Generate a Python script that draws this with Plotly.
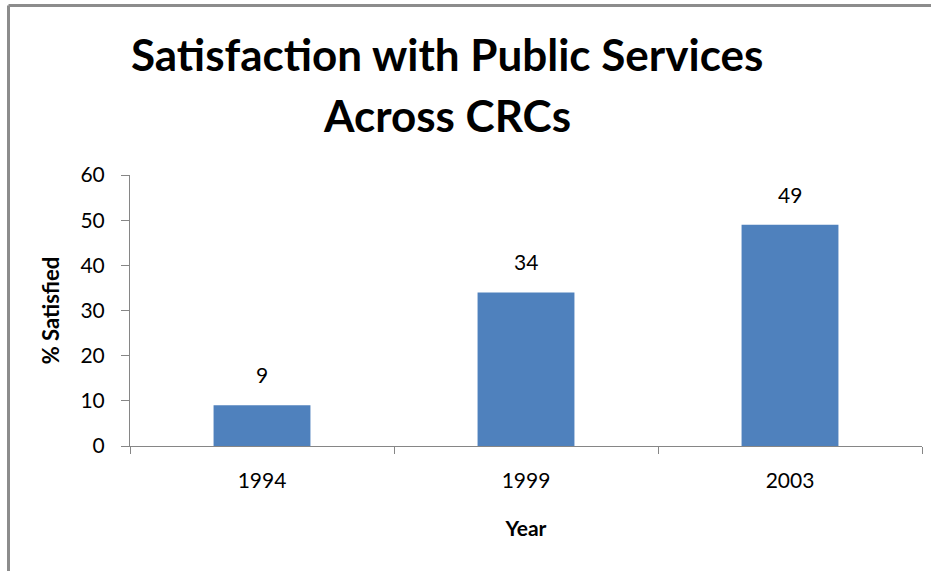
import plotly.graph_objects as go

years = ["1994", "1999", "2003"]
satisfied = [9, 34, 49]
y_ticks = [0, 10, 20, 30, 40, 50, 60]

title_line1 = "Satisfaction with Public Services"
title_line2 = "Across CRCs"

FONT = "Lato"
AXIS_COLOR = "#868686"

# plot area in pixels: x 130..922, y 175..446
PH = 271.0
PW = 792.0

fig = go.Figure()
fig.add_trace(go.Bar(
    x=years, y=satisfied,
    marker=dict(color="#4F81BD", line=dict(width=0)),
    hoverinfo="x+y",
))

annotations = []
for i, v in enumerate(satisfied):
    annotations.append(dict(
        x=i, y=v, xref="x", yref="y", text=str(v), showarrow=False,
        yanchor="bottom", yshift=16,
        font=dict(family=FONT, size=21, color="#000000"),
    ))
annotations.append(dict(
    x=(447 - 130) / PW, y=(446 - 54) / PH, xref="paper", yref="paper",
    text=title_line1, showarrow=False, xanchor="center", yanchor="middle",
    font=dict(family=FONT, size=44, color="#000000", weight="bold"),
))
annotations.append(dict(
    x=(447 - 130) / PW, y=(446 - 115) / PH, xref="paper", yref="paper",
    text=title_line2, showarrow=False, xanchor="center", yanchor="middle",
    font=dict(family=FONT, size=44, color="#000000", weight="bold"),
))

fig.update_layout(
    width=931, height=571,
    margin=dict(l=130, r=9, t=175, b=125),
    paper_bgcolor="white", plot_bgcolor="white",
    bargap=0.633,
    showlegend=False,
    annotations=annotations,
    font=dict(family=FONT, color="#000000"),
    shapes=[
        dict(type="line", xref="paper", yref="paper",
             x0=(8.5 - 130) / PW, x1=(8.5 - 130) / PW,
             y0=(446 - 600) / PH, y1=(446 - 5.5) / PH,
             line=dict(color="#8c8c8c", width=3)),
        dict(type="line", xref="paper", yref="paper",
             x0=(8.5 - 130) / PW, x1=(960 - 130) / PW,
             y0=(446 - 5.5) / PH, y1=(446 - 5.5) / PH,
             line=dict(color="#8c8c8c", width=3)),
    ],
)
fig.update_xaxes(
    type="category", range=[-0.5, 2.5],
    showline=True, linecolor=AXIS_COLOR, linewidth=1,
    ticks="outside", tickson="boundaries", ticklen=7, tickcolor=AXIS_COLOR,
    showgrid=False, zeroline=False, tickangle=0,
    tickfont=dict(family=FONT, size=21, color="#000000"),
    ticklabelstandoff=16,
    title=dict(text="Year", standoff=30,
               font=dict(family=FONT, size=21, color="#000000", weight="bold")),
)
fig.update_yaxes(
    range=[0, 60], tickvals=y_ticks,
    showline=True, linecolor=AXIS_COLOR, linewidth=1,
    ticks="outside", ticklen=8, tickcolor=AXIS_COLOR,
    showgrid=False, zeroline=False,
    tickfont=dict(family=FONT, size=21, color="#000000"),
    ticklabelstandoff=12,
    title=dict(text="% Satisfied", standoff=14,
               font=dict(family=FONT, size=22, color="#000000", weight="bold")),
)

fig.write_html("out.html")
